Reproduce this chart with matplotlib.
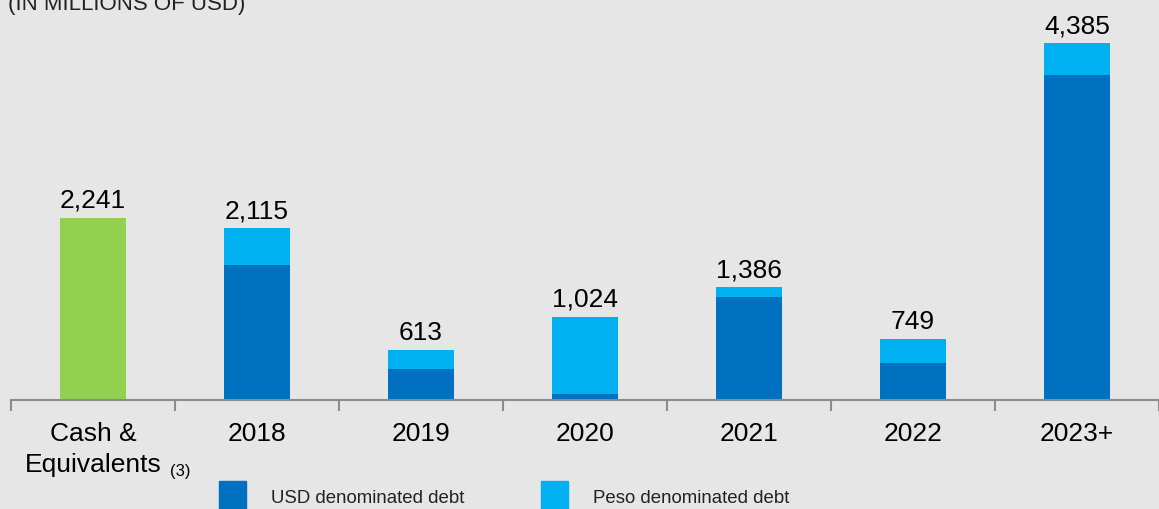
import numpy as np
import matplotlib.pyplot as plt

# debt maturity profile vs cash (millions of USD)
categories = ['Cash &\nEquivalents', '2018', '2019', '2020', '2021', '2022', '2023+']
cash = [2241, 0, 0, 0, 0, 0, 0]
usd_debt = [0, 1660, 381, 74, 1267, 455, 4000]
peso_debt = [0, 455, 232, 950, 119, 294, 385]
totals = [2241, 2115, 613, 1024, 1386, 749, 4385]

GREEN = '#92d050'
DARK_BLUE = '#0070c0'
LIGHT_BLUE = '#00b0f0'
BG = '#e6e6e6'

plt.rcParams['font.family'] = ['Liberation Sans', 'DejaVu Sans']

fig = plt.figure(figsize=(11.59, 5.09), dpi=100, facecolor=BG)
ax = fig.add_axes([11 / 1159, 1 - 400 / 509, 1 - 11 / 1159, 400 / 509])
ax.set_facecolor(BG)

x = np.arange(len(categories))
w = 0.40
ax.bar(x, cash, width=w, color=GREEN)
ax.bar(x, usd_debt, width=w, color=DARK_BLUE)
ax.bar(x, peso_debt, width=w, bottom=usd_debt, color=LIGHT_BLUE)

# value labels above bars
for i in range(len(x)):
    ax.text(x[i], totals[i] + 60, f'{totals[i]:,}', ha='center', va='bottom',
            fontsize=19, color='black')

ax.set_xlim(-0.5, (1159 - 93) / 164.5)
ax.set_ylim(0, 400 / 0.0813)

for s in ['top', 'right', 'left']:
    ax.spines[s].set_visible(False)
ax.spines['bottom'].set_color('#8c8c8c')
ax.spines['bottom'].set_linewidth(1.5)
ax.set_yticks([])

ax.set_xticks(x)
ax.set_xticklabels(categories, fontsize=19, linespacing=1.35)
ax.tick_params(axis='x', which='major', length=0, pad=16)
ax.set_xticks(np.arange(-0.5, len(categories), 1.0), minor=True)
ax.tick_params(axis='x', which='minor', length=8, width=1.5, color='#8c8c8c')
for lbl in ax.get_xticklabels():
    lbl.set_va('top')

fig.text(170 / 1159, 1 - 476 / 509, '(3)', fontsize=12, ha='left', va='baseline')

fig.text(8 / 1159, 1 - 10 / 509, '(IN MILLIONS OF USD)', fontsize=16,
         ha='left', va='baseline', color='#222222')

# legend drawn by hand
lx = [219, 541]
labels = ['USD denominated debt', 'Peso denominated debt']
cols = [DARK_BLUE, LIGHT_BLUE]
for i in range(2):
    fig.patches.append(plt.Rectangle((lx[i] / 1159, 0), 27 / 1159, 28 / 509,
                                     transform=fig.transFigure, color=cols[i]))
    fig.text((lx[i] + 52) / 1159, 1 - 503 / 509, labels[i], fontsize=13.4,
             ha='left', va='baseline', color='#222222')

fig.savefig('out.png', dpi=100, facecolor=BG)
